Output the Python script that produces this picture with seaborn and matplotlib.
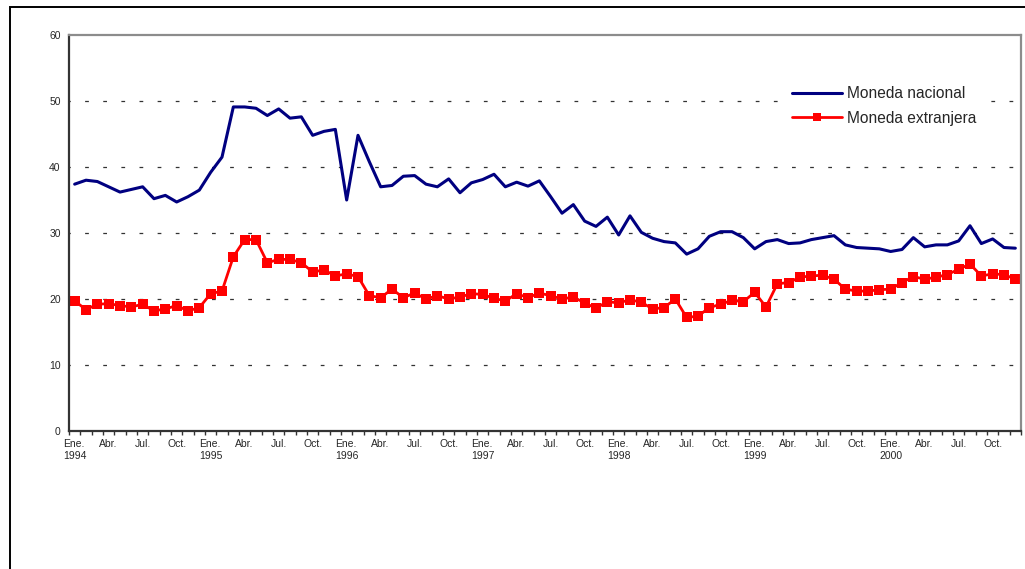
import numpy as np
import pandas as pd
import seaborn as sns
import matplotlib.pyplot as plt
from matplotlib.patches import Rectangle
from matplotlib.lines import Line2D

# monthly values, Ene. 1994 - Dic. 2000
nacional = [
    37.4, 38.0, 37.8, 37.0, 36.2, 36.6, 37.0, 35.2, 35.7, 34.7, 35.5, 36.5,   # 1994
    39.2, 41.5, 49.1, 49.1, 48.9, 47.8, 48.8, 47.4, 47.6, 44.8, 45.4, 45.7,   # 1995
    35.0, 44.8, 40.8, 37.0, 37.2, 38.6, 38.7, 37.4, 37.0, 38.2, 36.1, 37.6,   # 1996
    38.1, 38.9, 37.0, 37.7, 37.1, 37.9, 35.5, 33.0, 34.3, 31.8, 31.0, 32.4,   # 1997
    29.7, 32.6, 30.1, 29.2, 28.7, 28.5, 26.8, 27.6, 29.5, 30.2, 30.2, 29.3,   # 1998
    27.6, 28.7, 29.0, 28.4, 28.5, 29.0, 29.3, 29.6, 28.2, 27.8, 27.7, 27.6,   # 1999
    27.2, 27.5, 29.3, 27.9, 28.2, 28.2, 28.8, 31.1, 28.4, 29.1, 27.8, 27.7,   # 2000
]
extranjera = [
    19.7, 18.4, 19.2, 19.3, 19.0, 18.8, 19.2, 18.2, 18.5, 19.0, 18.2, 18.7,   # 1994
    20.8, 21.2, 26.4, 29.0, 29.0, 25.5, 26.0, 26.0, 25.5, 24.1, 24.4, 23.5,   # 1995
    23.8, 23.4, 20.5, 20.2, 21.5, 20.2, 20.9, 20.0, 20.5, 20.0, 20.3, 20.8,   # 1996
    20.7, 20.1, 19.7, 20.8, 20.2, 20.9, 20.5, 20.0, 20.3, 19.4, 18.6, 19.6,   # 1997
    19.4, 19.9, 19.5, 18.5, 18.7, 20.0, 17.2, 17.4, 18.7, 19.2, 19.8, 19.6,   # 1998
    21.0, 18.8, 22.3, 22.5, 23.3, 23.5, 23.6, 23.0, 21.5, 21.2, 21.2, 21.4,   # 1999
    21.5, 22.5, 23.4, 23.0, 23.3, 23.7, 24.5, 25.3, 23.5, 23.8, 23.7, 23.0,   # 2000
]
years = ["1994", "1995", "1996", "1997", "1998", "1999", "2000"]
quarter_labels = ["Ene.", "Abr.", "Jul.", "Oct."]

df = pd.DataFrame({
    "mes": np.arange(len(nacional)),
    "Moneda nacional": nacional,
    "Moneda extranjera": extranjera,
})

sns.set_style("white")
plt.rcParams['font.family'] = ['Liberation Sans', 'DejaVu Sans']

fig = plt.figure(figsize=(10.25, 5.69), dpi=100)
ax = fig.add_axes([69 / 1025, 138 / 569, 952 / 1025, 396 / 569])

sns.lineplot(data=df, x="mes", y="Moneda nacional", color="#000080",
             linewidth=2.2, ax=ax, label="Moneda nacional")
sns.lineplot(data=df, x="mes", y="Moneda extranjera", color="#ff0000",
             linewidth=2.0, marker="s", markersize=7, markeredgewidth=0,
             ax=ax, label="Moneda extranjera")

ax.set_xlim(-0.5, len(nacional) - 0.5)
ax.set_ylim(0, 60)
ax.set_xlabel("")
ax.set_ylabel("")

# y axis
ax.set_yticks(range(0, 61, 10))
ax.tick_params(axis="y", which="major", direction="out", length=4, width=1,
               color="#333333", labelsize=7.5, pad=2)
for v in range(10, 60, 10):
    ax.axhline(v, color="#333333", lw=0.9, linestyle=(2, (3, 11.5)), zorder=0)

# x axis: labels every 3 months, tick marks between months
xlabels = []
for y in years:
    for q in quarter_labels:
        xlabels.append(q + "\n" + y if q == "Ene." else q)
ax.set_xticks(np.arange(0, len(nacional), 3))
ax.set_xticklabels(xlabels)
ax.set_xticks(np.arange(-0.5, len(nacional), 1), minor=True)
ax.tick_params(axis="x", which="major", length=0, labelsize=7.5, pad=6)
ax.tick_params(axis="x", which="minor", direction="out", length=3, width=1,
               color="#333333", bottom=True)
for lab in ax.get_xticklabels():
    lab.set_horizontalalignment("center")
    lab.set_multialignment("left")

# spines
for s in ["left", "bottom"]:
    ax.spines[s].set_color("#333333")
    ax.spines[s].set_linewidth(1.6)
for s in ["top", "right"]:
    ax.spines[s].set_color("#8c8c8c")
    ax.spines[s].set_linewidth(1.6)

handles = [
    Line2D([], [], color="#000080", lw=2.2),
    Line2D([], [], color="#ff0000", lw=2.0, marker="s", markersize=6, markeredgewidth=0),
]
leg = ax.legend(handles, ["Moneda nacional", "Moneda extranjera"],
                loc="upper left", bbox_to_anchor=(0.753, 0.886),
                fontsize=11.2, frameon=True, facecolor="white", edgecolor="white",
                framealpha=1, fancybox=False, handlelength=3.2, handletextpad=0.3,
                labelspacing=0.6, borderpad=0.4, borderaxespad=0)

# chart border
fig.add_artist(Rectangle((10 / 1025, -0.1), 2, (569 - 7) / 569 + 0.1,
                         transform=fig.transFigure, fill=False, lw=1.4,
                         ec="black"))

fig.savefig("out.png", dpi=100)
